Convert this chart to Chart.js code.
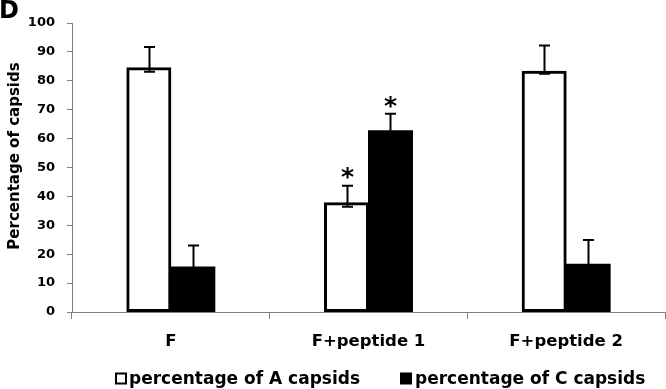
<!DOCTYPE html>
<html><head><meta charset="utf-8">
<script src="https://cdn.jsdelivr.net/npm/chart.js@4"></script>
<style>html,body{margin:0;padding:0;background:#fff}#wrap{width:666px;height:389px}</style>
</head><body><div id="wrap"><canvas id="c" width="666" height="389"></canvas></div>
<script>
const categories = ['F', 'F+peptide 1', 'F+peptide 2'];
const seriesNames = ['percentage of A capsids', 'percentage of C capsids'];
const valuesA = [84.5, 37.8, 83.3];
const valuesC = [15.6, 62.7, 16.5];
const errPlusA = [7.2, 5.9, 8.9];
const errMinusA = [1.4, 1.4, 0.9];
const errPlusC = [7.4, 5.9, 8.4];
const errMinusC = [0, 0, 0];
const starsA = ['', '*', ''];
const starsC = ['', '*', ''];
const yMin = 0, yMax = 100, yStep = 10;
const yTitle = 'Percentage of capsids';
const panelLetter = 'D';

const FONT = 'DejaVu Sans';
const AXIS_GRAY = '#808080';

const errorBars = {
  id: 'errorBars',
  afterDatasetsDraw(chart) {
    const ctx = chart.ctx, y = chart.scales.y;
    const sets = [[valuesA, errPlusA, errMinusA, starsA, 13], [valuesC, errPlusC, errMinusC, starsC, 12]];
    ctx.save();
    sets.forEach((s, i) => {
      const meta = chart.getDatasetMeta(i);
      s[0].forEach((v, j) => {
        const x = Math.round(meta.data[j].x) + 0.5;
        const yTop = y.getPixelForValue(v + s[1][j]);
        const yLow = y.getPixelForValue(v - s[2][j]);
        ctx.strokeStyle = '#000';
        ctx.lineWidth = 2;
        ctx.beginPath();
        ctx.moveTo(x, yLow); ctx.lineTo(x, yTop);
        ctx.moveTo(x - 5.5, yTop); ctx.lineTo(x + 5.5, yTop);
        if (s[2][j] > 0) { ctx.moveTo(x - 5.5, yLow); ctx.lineTo(x + 5.5, yLow); }
        ctx.stroke();
        if (s[3][j]) {
          ctx.font = 'bold 25px "' + FONT + '"';
          ctx.fillStyle = '#000';
          const m = ctx.measureText(s[3][j]);
          const cy = yTop - s[4];
          const h = m.actualBoundingBoxAscent + m.actualBoundingBoxDescent;
          ctx.textAlign = 'left';
          ctx.textBaseline = 'alphabetic';
          const w = m.actualBoundingBoxRight + m.actualBoundingBoxLeft;
          ctx.fillText(s[3][j], x - w / 2 + m.actualBoundingBoxLeft, cy - h / 2 + m.actualBoundingBoxAscent);
        }
      });
    });
    ctx.restore();
  },
  afterDraw(chart) {
    const ctx = chart.ctx;
    ctx.save();
    ctx.fillStyle = '#000';
    ctx.font = 'bold 15px "' + FONT + '"';
    ctx.translate(15, 156);
    ctx.rotate(-Math.PI / 2);
    ctx.textAlign = 'center';
    ctx.textBaseline = 'middle';
    ctx.fillText(yTitle, 0, 0);
    ctx.restore();
    ctx.save();
    ctx.fillStyle = '#000';
    ctx.font = 'bold 24px "' + FONT + '"';
    ctx.textAlign = 'left';
    ctx.textBaseline = 'alphabetic';
    ctx.fillText(panelLetter, -1, 17.5);
    ctx.font = 'bold 17px "' + FONT + '"';
    ctx.fillStyle = '#fff';
    ctx.fillRect(116, 373.5, 10, 10);
    ctx.strokeStyle = '#000';
    ctx.lineWidth = 2;
    ctx.strokeRect(116, 373.5, 10, 10);
    ctx.fillStyle = '#000';
    ctx.fillText(seriesNames[0], 129, 383.5);
    ctx.fillRect(400, 372.5, 12, 12);
    ctx.fillText(seriesNames[1], 415, 383.5);
    ctx.restore();
  }
};

new Chart(document.getElementById('c'), {
  type: 'bar',
  data: {
    labels: categories,
    datasets: [
      { label: seriesNames[0], data: valuesA, backgroundColor: '#ffffff', borderColor: '#000000', borderWidth: 3, borderSkipped: false, categoryPercentage: 0.445, barPercentage: 1, inflateAmount: 0.5 },
      { label: seriesNames[1], data: valuesC, backgroundColor: '#000000', borderColor: '#000000', borderWidth: 0, categoryPercentage: 0.445, barPercentage: 1, inflateAmount: 0.5 }
    ]
  },
  options: {
    responsive: false,
    animation: false,
    devicePixelRatio: 1,
    layout: { padding: { top: 23, right: 1, left: 0, bottom: 0 } },
    plugins: { legend: { display: false }, tooltip: { enabled: false } },
    scales: {
      x: {
        grid: { offset: true, drawOnChartArea: false, tickLength: 7, color: AXIS_GRAY, lineWidth: 1 },
        border: { color: AXIS_GRAY, width: 1 },
        ticks: { color: '#000', font: { family: FONT, weight: 'bold', size: 16.5 }, padding: 13, maxRotation: 0 },
        afterFit: s => { s.height = 77; }
      },
      y: {
        min: yMin, max: yMax,
        grid: { drawOnChartArea: false, tickLength: 5, color: AXIS_GRAY, lineWidth: 1 },
        border: { color: AXIS_GRAY, width: 1 },
        ticks: { stepSize: yStep, color: '#000', font: { family: FONT, weight: 'bold', size: 13 }, padding: 12 },
        afterFit: s => { s.width = 72; }
      }
    }
  },
  plugins: [errorBars]
});
</script></body></html>
